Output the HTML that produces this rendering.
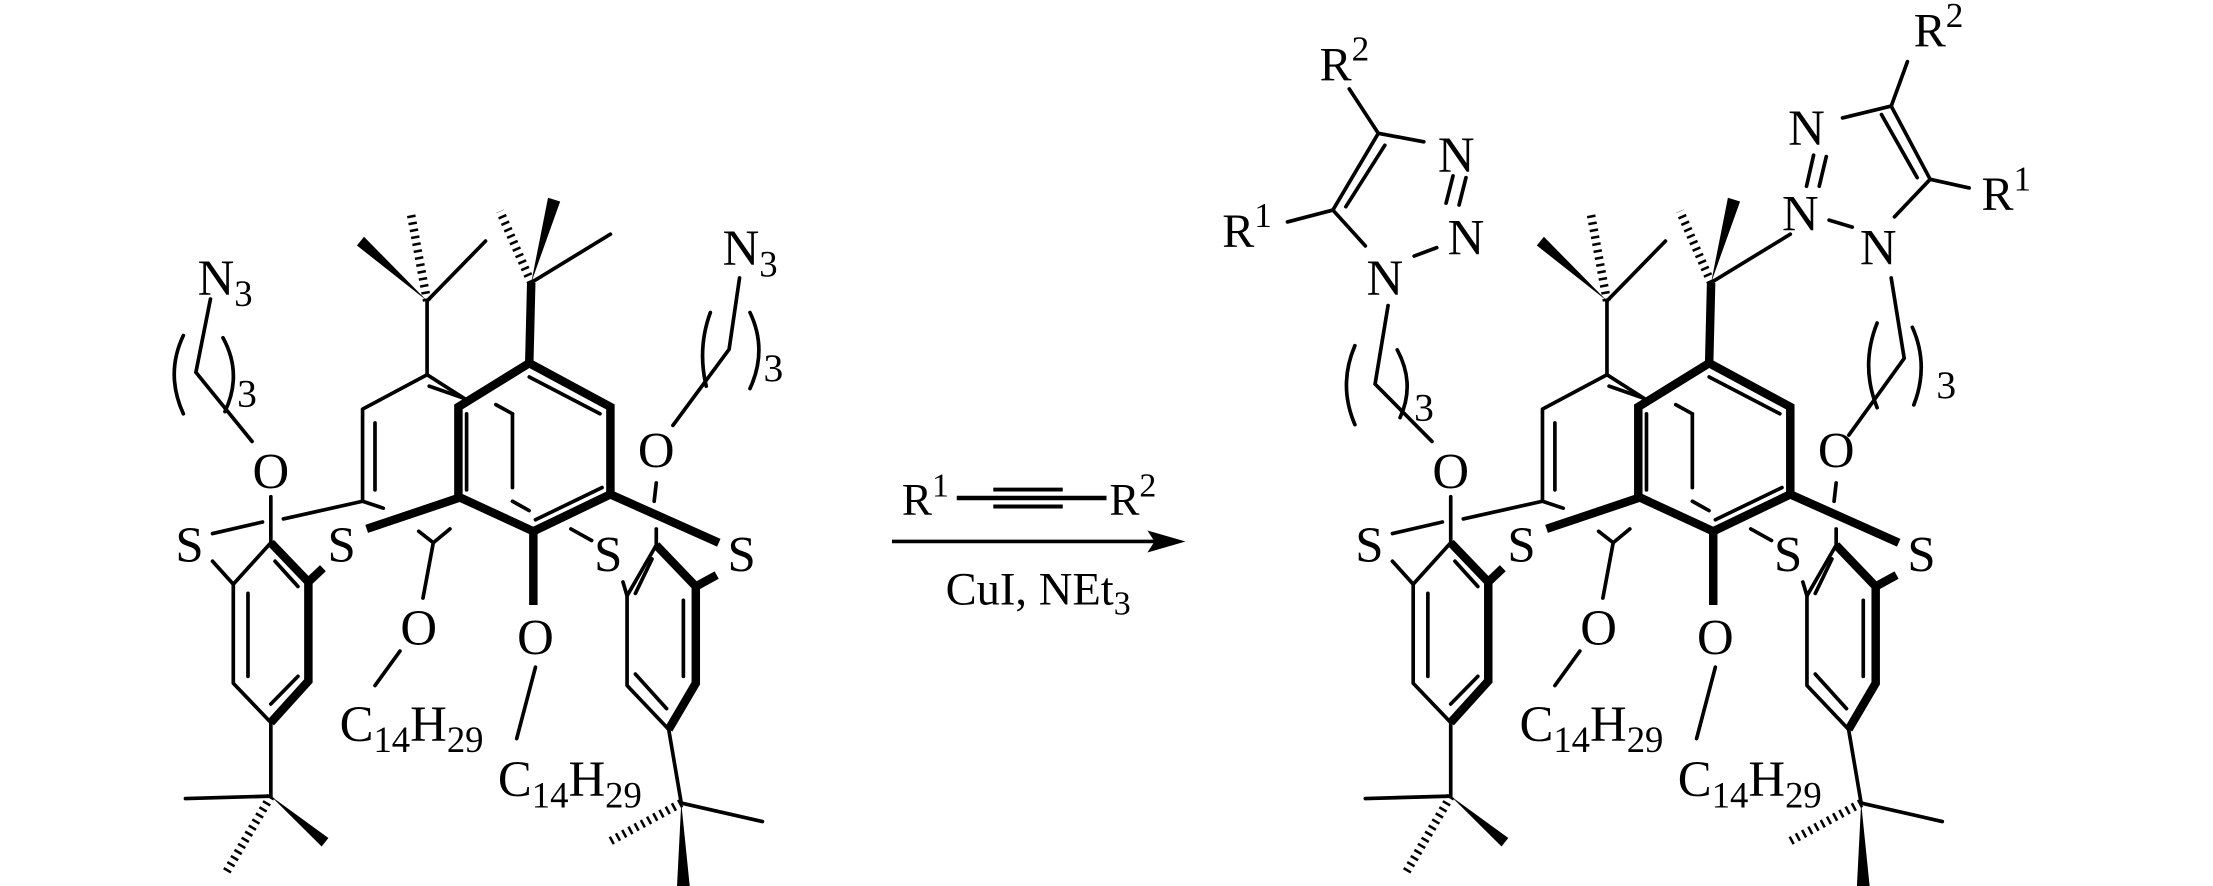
<!DOCTYPE html>
<html><head><meta charset="utf-8"><style>
html,body{margin:0;padding:0;background:#fff;}
svg{display:block;}
text{font-family:"Liberation Serif",serif;fill:#000;}
</style></head><body>
<svg width="2213" height="886" viewBox="0 0 1568 628" preserveAspectRatio="none" xmlns="http://www.w3.org/2000/svg">
<defs>
<g id="core">
<g stroke="#000" stroke-width="2.6" fill="none" stroke-linecap="round" stroke-linejoin="round">
<!-- left phenyl -->
<polyline points="191.9,512.1 165.3,484.3 165.3,414.1 191.9,384.7"/>
<line x1="175.7" y1="420.6" x2="175.7" y2="479.4"/>
<line x1="194.9" y1="397.8" x2="211.1" y2="415.7"/>
<line x1="191.9" y1="499" x2="211.1" y2="479.4"/>
<line x1="165.3" y1="414.1" x2="150.6" y2="397.8"/>
<line x1="191.9" y1="512.1" x2="191.9" y2="564.3"/>
<line x1="191.9" y1="564.3" x2="131.4" y2="566"/>
<line x1="191.9" y1="352.1" x2="191.9" y2="384.7"/>
<line x1="150.6" y1="378.2" x2="186" y2="370"/>
<line x1="200.8" y1="367.8" x2="256.9" y2="355.3"/>
<!-- back ring -->
<polyline points="271.6,360.2 256.9,355.3 256.9,290 302.6,265.6 330.6,283.5"/>
<line x1="265.7" y1="299.8" x2="265.7" y2="347.2"/>
<line x1="304.1" y1="273.7" x2="327.7" y2="281.9"/>
<line x1="302.6" y1="265.6" x2="302.6" y2="213.3"/>
<line x1="302.6" y1="213.3" x2="344" y2="170.9"/>
<line x1="351.3" y1="286.8" x2="363.1" y2="293.3"/>
<line x1="363.1" y1="293.3" x2="363.1" y2="345.6"/>
<line x1="363.1" y1="355.3" x2="374.9" y2="361.9"/>
<polyline points="299.7,423.9 307,384.7 296.7,376.6"/>
<line x1="307" y1="384.7" x2="318.8" y2="374.9"/>
<line x1="404.5" y1="374.9" x2="419.2" y2="383.1"/>
<line x1="283.4" y1="461.5" x2="265.7" y2="485.9"/>
<!-- front ring inner -->
<line x1="375" y1="267.2" x2="425.1" y2="293.3"/>
<line x1="379.4" y1="368.4" x2="426.6" y2="345.6"/>
<line x1="330.6" y1="293.3" x2="330.6" y2="347.2"/>
<line x1="376.4" y1="200.3" x2="432.5" y2="166"/>
<line x1="379.4" y1="472.9" x2="366.1" y2="523.5"/>
<line x1="441.4" y1="412.5" x2="444.3" y2="422.3"/>
<line x1="465" y1="342.3" x2="463.5" y2="355.3"/>
<line x1="465" y1="374.9" x2="465" y2="386.4"/>
<!-- right phenyl -->
<polyline points="473.8,517 444.3,485.9 444.3,422.3 465,386.4"/>
<line x1="450.2" y1="420.6" x2="462" y2="396.2"/>
<line x1="484.2" y1="425.5" x2="484.2" y2="479.4"/>
<line x1="450.2" y1="477.8" x2="472.3" y2="502.3"/>
<line x1="473.8" y1="517" x2="482.7" y2="569.2"/>
<line x1="482.7" y1="569.2" x2="540.2" y2="582.3"/>
</g>
<!-- bold -->
<g stroke="#000" stroke-width="6" fill="none" stroke-linecap="butt" stroke-linejoin="miter">
<polyline points="191.9,384.7 218.5,412.5 218.5,482.7 191.9,512.1"/>
<line x1="218.5" y1="412.5" x2="228.8" y2="402.7"/>
<line x1="259.8" y1="374.9" x2="324.8" y2="353"/>
<polygon points="375,257.4 432.5,288.4 432.5,350.4 377.9,376.6 324.8,352.1 324.8,288.4"/>
<line x1="375" y1="257.4" x2="376.4" y2="200.3"/>
<line x1="377.9" y1="376.6" x2="377.9" y2="428.8"/>
<line x1="432.5" y1="350.4" x2="509.3" y2="384.7"/>
<polyline points="465,386.4 493,415.7 493,484.3 473.8,517"/>
<line x1="493" y1="415.7" x2="507.8" y2="407.6"/>
</g>
<!-- wedges -->
<g fill="#000">
<polygon points="191.9,564.3 232.7,594 227.9,600"/>
<polygon points="302.6,213.3 257.9,167.8 252.9,174"/>
<polygon points="376.4,200.3 396.9,142.8 388.3,140.2"/>
<polygon points="482.7,569.2 488.7,628 479.7,628"/>
</g>
<g stroke="#000" stroke-width="6" stroke-dasharray="1.8 3.2" fill="none">
<line x1="191.9" y1="564.3" x2="159.4" y2="619.8"/>
<line x1="302.6" y1="213.3" x2="290.8" y2="149.7"/>
<line x1="376.4" y1="200.3" x2="354.3" y2="149.7"/>
<line x1="482.7" y1="569.2" x2="431" y2="597"/>
</g>
<g font-size="36" text-anchor="middle" dominant-baseline="central">
<text x="134.3" y="386.4">S</text>
<text x="242.1" y="386.4">S</text>
<text x="431" y="392.9">S</text>
<text x="525.5" y="392.9">S</text>
<text x="191.9" y="334.1">O</text>
<text x="296.7" y="445.1">O</text>
<text x="379.4" y="451.7">O</text>
<text x="465" y="319.4">O</text>
</g>
<text x="240.6" y="525.1" font-size="36">C<tspan dy="8" font-size="26">14</tspan><tspan dy="-8">H</tspan><tspan dy="8" font-size="26">29</tspan></text>
<text x="352.8" y="564.3" font-size="36">C<tspan dy="8" font-size="26">14</tspan><tspan dy="-8">H</tspan><tspan dy="8" font-size="26">29</tspan></text>
</g>
</defs>

<!-- LEFT MOLECULE -->
<use href="#core"/>
<g stroke="#000" stroke-width="2.6" fill="none" stroke-linecap="round">
<polyline points="178.6,312.9 138.8,263.9 149.1,212"/>
<path d="M129.9,237.8 Q117,265 129.9,293.3"/>
<path d="M158,239.4 Q172,265 159.4,291.7"/>
<polyline points="476.8,301.5 516.6,247.6 524,197"/>
<path d="M503.3,221.5 Q494,247 500.4,273.7"/>
<path d="M531.4,221.5 Q544,248 531.4,275.4"/>
</g>
<text x="140" y="209" font-size="36">N<tspan dy="8" font-size="26">3</tspan></text>
<text x="168" y="288" font-size="28">3</text>
<text x="512" y="188" font-size="36">N<tspan dy="8" font-size="26">3</tspan></text>
<text x="541" y="270" font-size="28">3</text>

<!-- ARROW -->
<g stroke="#000" fill="none">
<line x1="632" y1="383.8" x2="822" y2="383.8" stroke-width="2.6"/>
<line x1="677.9" y1="353" x2="784" y2="353" stroke-width="3.2"/>
<line x1="703.8" y1="347" x2="753" y2="347" stroke-width="2.8"/>
<line x1="703.8" y1="359" x2="753" y2="359" stroke-width="2.8"/>
</g>
<polygon points="840,383.8 813,376 818,383.8 813,391.6" fill="#000"/>
<text x="639" y="365" font-size="32">R<tspan dy="-13" font-size="24">1</tspan></text>
<text x="786" y="365" font-size="32">R<tspan dy="-13" font-size="24">2</tspan></text>
<text x="670" y="428.6" font-size="33">CuI, NEt<tspan dy="7" font-size="24">3</tspan></text>

<!-- RIGHT MOLECULE -->
<use href="#core" transform="translate(836,0)"/>
<g stroke="#000" stroke-width="2.6" fill="none" stroke-linecap="round">
<!-- left triazole -->
<polyline points="1014.6,312.9 974.3,272.2 983.5,216.6"/>
<path d="M960,245 Q948,273 960,301"/>
<path d="M990,248 Q1003,272 992,296"/>
<line x1="967.4" y1="174.3" x2="944.4" y2="148.9"/>
<line x1="944.4" y1="148.9" x2="976.6" y2="94.5"/>
<line x1="953.6" y1="146.5" x2="981.2" y2="103"/>
<line x1="976.6" y1="94.5" x2="1008.8" y2="100.5"/>
<line x1="1029.5" y1="124.7" x2="1024.6" y2="144"/>
<line x1="1038.7" y1="125.9" x2="1033.8" y2="145.3"/>
<line x1="1018" y1="175.5" x2="1002" y2="181.5"/>
<line x1="944.4" y1="148.9" x2="912.2" y2="157.3"/>
<line x1="976.6" y1="94.5" x2="956" y2="63"/>
<!-- right triazole -->
<polyline points="1310,308.4 1349.2,254 1340,197"/>
<path d="M1330,229 Q1318,259 1330,289"/>
<path d="M1355,232 Q1367,259 1356,287"/>
<line x1="1340" y1="75.2" x2="1351.5" y2="43.7"/>
<line x1="1340" y1="75.2" x2="1305.5" y2="83.6"/>
<line x1="1285" y1="110" x2="1280" y2="132"/>
<line x1="1294" y1="111" x2="1289" y2="132"/>
<line x1="1296" y1="156" x2="1312.4" y2="161"/>
<line x1="1342.3" y1="153.7" x2="1367.6" y2="127.1"/>
<line x1="1367.6" y1="127.1" x2="1340" y2="75.2"/>
<line x1="1358.4" y1="125.9" x2="1333.1" y2="81.2"/>
<line x1="1367.6" y1="127.1" x2="1395.2" y2="133.2"/>
</g>
<g font-size="36" text-anchor="middle" dominant-baseline="central">
<text x="981.2" y="197.2">N</text>
<text x="1031.8" y="110">N</text>
<text x="1038.7" y="168.2">N</text>
<text x="1280" y="90.9">N</text>
<text x="1275.6" y="151.3">N</text>
<text x="1330.8" y="175.5">N</text>
</g>
<text x="1002" y="298" font-size="28">3</text>
<text x="1372" y="282" font-size="28">3</text>
<text x="866" y="175" font-size="34">R<tspan dy="-14" font-size="25">1</tspan></text>
<text x="935" y="57" font-size="34">R<tspan dy="-14" font-size="25">2</tspan></text>
<text x="1404" y="149" font-size="34">R<tspan dy="-14" font-size="25">1</tspan></text>
<text x="1356" y="33" font-size="34">R<tspan dy="-14" font-size="25">2</tspan></text>
</svg>
</body></html>
